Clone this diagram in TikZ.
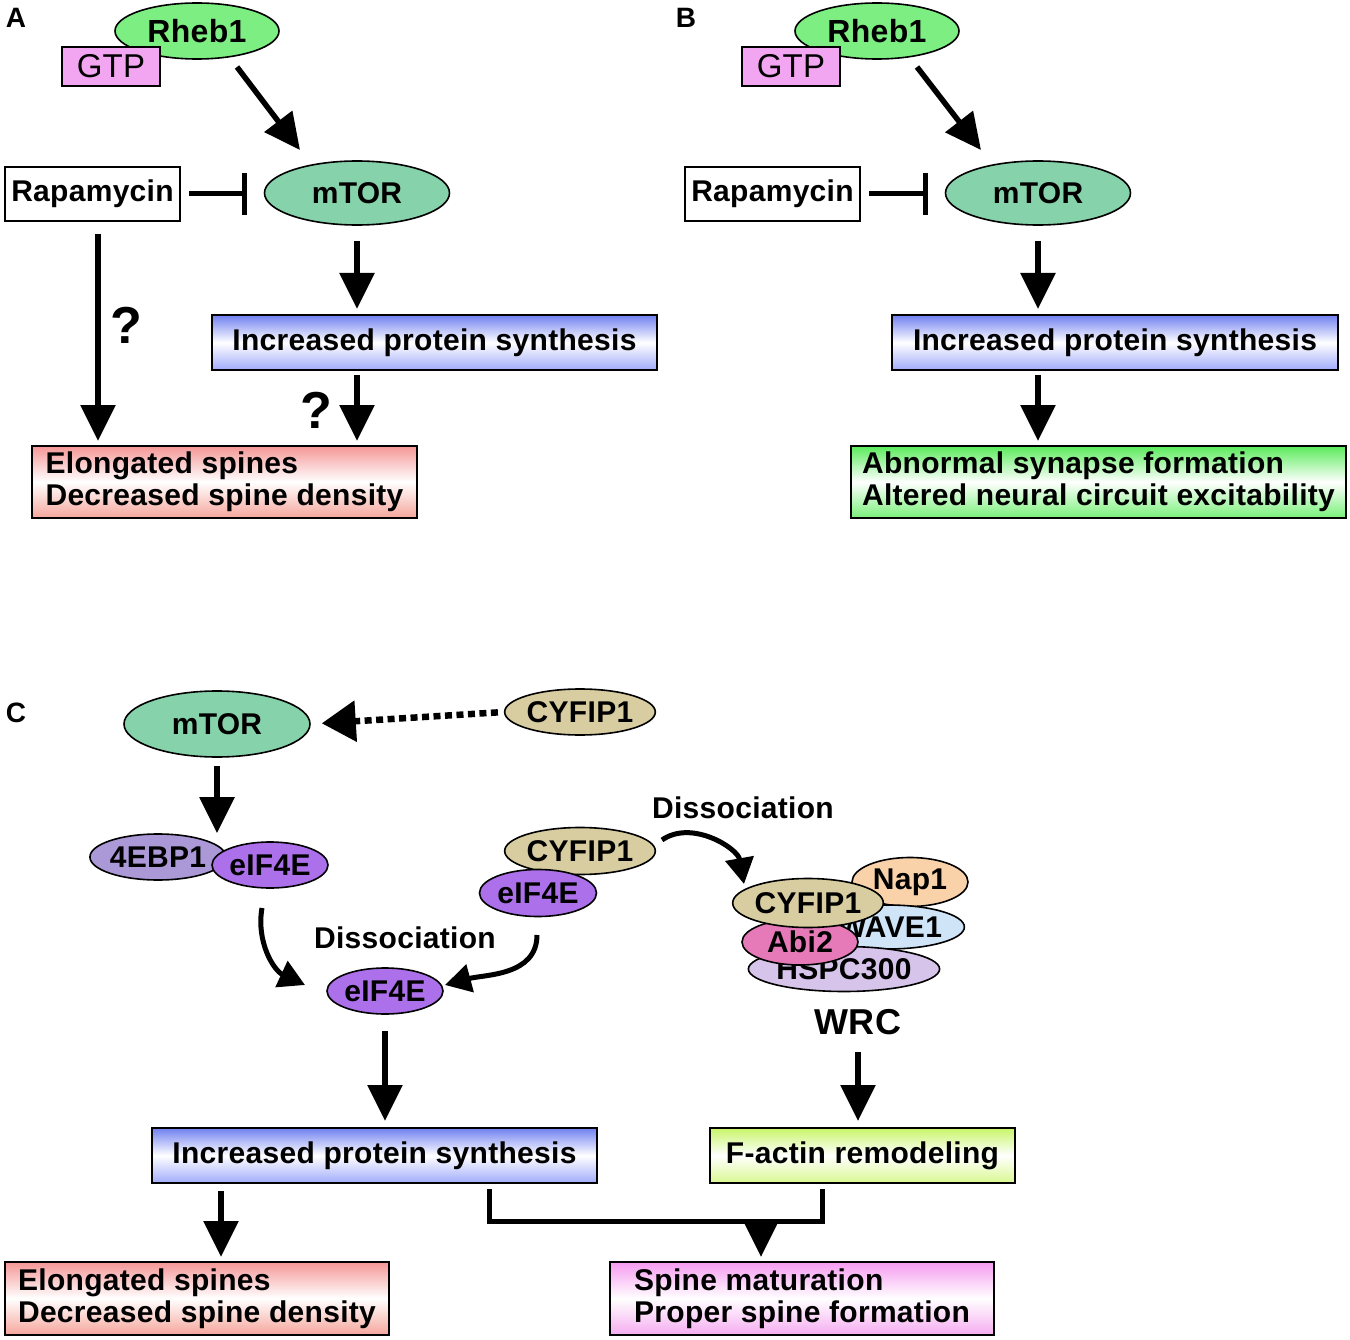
\documentclass[tikz,border=0pt]{standalone}
\usepackage{fontspec}
\setmainfont{Liberation Sans}[LetterSpace=1]
\usetikzlibrary{shapes.geometric,arrows.meta,calc}
\definecolor{rhebgreen}{RGB}{125,238,130}
\definecolor{gtppink}{RGB}{242,165,240}
\definecolor{mtorgreen}{RGB}{134,210,170}
\definecolor{protblue}{RGB}{112,128,240}
\definecolor{protbluelow}{RGB}{160,172,250}
\definecolor{redbox}{RGB}{245,150,150}
\definecolor{redboxlow}{RGB}{245,165,155}
\definecolor{greenbox}{RGB}{90,235,90}
\definecolor{greenboxlow}{RGB}{120,240,120}
\definecolor{cyftan}{RGB}{216,205,160}
\definecolor{ebplav}{RGB}{170,152,215}
\definecolor{eifpurple}{RGB}{172,112,235}
\definecolor{nappeach}{RGB}{250,210,170}
\definecolor{waveblue}{RGB}{208,228,248}
\definecolor{hspclav}{RGB}{215,196,235}
\definecolor{abipink}{RGB}{230,122,185}
\definecolor{actingreen}{RGB}{200,245,105}
\definecolor{actingreenlow}{RGB}{218,248,145}
\definecolor{spinepink}{RGB}{245,155,240}
\definecolor{spinepinklow}{RGB}{245,172,240}
\tikzset{
  every node/.style={font=\fontsize{30}{32}\selectfont\bfseries},
  prot/.style={ellipse,draw,line width=1.6pt,inner sep=0pt},
  box/.style={rectangle,draw,line width=2pt,inner sep=0pt},
  arr/.style={line width=5.5pt,-{Triangle[length=36pt,width=34pt]}},
  carr/.style={line width=5pt,-{Triangle[length=26pt,width=28pt]}},
  inh/.style={line width=5pt,-{Bar[width=42pt]}},
  dotarr/.style={line width=6.5pt,dash pattern=on 7pt off 4.5pt,-{Triangle[length=34pt,width=40pt]}},
  quest/.style={font=\fontsize{52}{54}\selectfont\bfseries},
  panel/.style={font=\fontsize{28}{30}\selectfont\bfseries}
}
\begin{document}
\begin{tikzpicture}[x=1pt,y=1pt]
\useasboundingbox (0,0) rectangle (1350,-1340);

\node[panel] (labA) at (16,-18) {A};
\node[prot,fill=rhebgreen,minimum width=164pt,minimum height=56pt,font=\fontsize{32}{34}\selectfont\bfseries] (rhebA) at (197,-31) {Rheb1};
\node[box,line width=1.6pt,fill=gtppink,minimum width=98pt,minimum height=39pt,font=\fontsize{33}{34}\selectfont] (gtpA) at (111,-66.5) {GTP};
\node[box,fill=white,minimum width=175pt,minimum height=54pt] (rapaA) at (92.5,-194) {Rapamycin};
\node[prot,fill=mtorgreen,minimum width=185pt,minimum height=64pt] (mtorA) at (357,-193) {mTOR};
\node[box,top color=protblue,bottom color=protbluelow,middle color=white,minimum width=445pt,minimum height=55pt] (protA) at (434.5,-342.5) {Increased protein synthesis};
\node[box,top color=redbox,bottom color=redboxlow,middle color=white,minimum width=385pt,minimum height=72pt,align=left] (elongA) at (224.5,-482) {Elongated spines\\Decreased spine density};
\node[quest] (qA1) at (126,-325) {?};
\node[quest] (qA2) at (316,-410) {?};
\draw[arr] ($(rhebA)+(40,-36)$) -- ($(mtorA)+(-57,43)$);
\draw[inh,shorten <=8pt,shorten >=17pt] (rapaA.east) -- (rapaA.east -| mtorA.west);
\draw[arr,shorten <=15pt,shorten >=5pt] (mtorA.south) -- (mtorA.south |- protA.north);
\coordinate (rapdown) at ($(rapaA.south)+(5.5,0)$);
\draw[arr,shorten <=12pt,shorten >=4pt] (rapdown) -- (rapdown |- elongA.north);
\draw[arr,shorten <=4pt,shorten >=4pt] (mtorA.south |- protA.south) -- (mtorA.south |- elongA.north);

\node[panel] (labB) at (686,-18) {B};
\node[prot,fill=rhebgreen,minimum width=164pt,minimum height=56pt,font=\fontsize{32}{34}\selectfont\bfseries] (rhebB) at (877,-31) {Rheb1};
\node[box,line width=1.6pt,fill=gtppink,minimum width=98pt,minimum height=39pt,font=\fontsize{33}{34}\selectfont] (gtpB) at (791,-66.5) {GTP};
\node[box,fill=white,minimum width=175pt,minimum height=54pt] (rapaB) at (772.5,-194) {Rapamycin};
\node[prot,fill=mtorgreen,minimum width=185pt,minimum height=64pt] (mtorB) at (1038,-193) {mTOR};
\node[box,top color=protblue,bottom color=protbluelow,middle color=white,minimum width=446pt,minimum height=55pt] (protB) at (1115,-342.5) {Increased protein synthesis};
\node[box,top color=greenbox,bottom color=greenboxlow,middle color=white,minimum width=495pt,minimum height=72pt,align=left] (synB) at (1098.5,-482) {Abnormal synapse formation\\Altered neural circuit excitability};
\draw[arr] ($(rhebB)+(40,-36)$) -- ($(mtorB)+(-57,43)$);
\draw[inh,shorten <=8pt,shorten >=17pt] (rapaB.east) -- (rapaB.east -| mtorB.west);
\draw[arr,shorten <=15pt,shorten >=5pt] (mtorB.south) -- (mtorB.south |- protB.north);
\draw[arr,shorten <=4pt,shorten >=4pt] (mtorB.south |- protB.south) -- (mtorB.south |- synB.north);

\node[panel] (labC) at (16,-713) {C};
\node[prot,fill=mtorgreen,minimum width=186pt,minimum height=66pt] (mtorC) at (217,-724) {mTOR};
\node[prot,fill=cyftan,minimum width=130pt,minimum height=46pt] (cyfA) at (580,-712) {CYFIP1};
\node[prot,fill=ebplav,minimum width=116pt,minimum height=46pt] (ebpC) at (158,-857) {4EBP1};
\node[prot,fill=eifpurple,minimum width=116pt,minimum height=46pt] (eifA) at (270,-865) {eIF4E};
\node[prot,fill=cyftan,minimum width=130pt,minimum height=47pt] (cyfB) at (580,-851) {CYFIP1};
\node[prot,fill=eifpurple,minimum width=117pt,minimum height=47pt] (eifB) at (538,-893) {eIF4E};
\node[prot,fill=eifpurple,minimum width=116pt,minimum height=46pt] (eifC) at (385,-991) {eIF4E};
\node (dissA) at (405,-938) {Dissociation};
\node (dissB) at (743,-808) {Dissociation};
\node[prot,fill=nappeach,minimum width=116pt,minimum height=49pt] (napW) at (910,-882) {Nap1};
\node[prot,fill=waveblue,minimum width=118pt,minimum height=44pt] (waveW) at (888,-927) {\hspace*{4pt}WAVE1};
\node[prot,fill=hspclav,minimum width=148pt,minimum height=45pt] (hspcW) at (844,-969) {HSPC300};
\node[prot,fill=abipink,minimum width=116pt,minimum height=46pt] (abiW) at (800,-942) {Abi2};
\node[prot,fill=cyftan,minimum width=130pt,minimum height=49pt] (cyfW) at (808,-903) {CYFIP1};
\node[font=\fontsize{36}{38}\selectfont\bfseries] (wrc) at (858,-1022) {WRC};
\node[box,top color=protblue,bottom color=protbluelow,middle color=white,minimum width=445pt,minimum height=55pt] (protC) at (374.5,-1155.5) {Increased protein synthesis};
\node[box,top color=actingreen,bottom color=actingreenlow,middle color=white,minimum width=305pt,minimum height=55pt] (actin) at (862.5,-1155.5) {F-actin remodeling};
\node[box,top color=redbox,bottom color=redboxlow,middle color=white,minimum width=384pt,minimum height=73pt,align=left] (elongC) at (197,-1298.5) {Elongated spines\\Decreased spine density};
\node[box,top color=spinepink,bottom color=spinepinklow,middle color=white,minimum width=384pt,minimum height=73pt,align=left] (spineC) at (802,-1298.5) {Spine maturation\\Proper spine formation};
\draw[dotarr,shorten <=6pt,shorten >=11pt] (cyfA.west) -- (mtorC.east);
\draw[arr,shorten <=8pt] (mtorC.south) -- (mtorC.south |- ebpC.north);
\draw[carr] ($(eifA)+(-8,-43)$) to[out=-100,in=155] ($(eifC)+(-80,6)$);
\draw[carr] ($(eifB)+(-1,-42)$) to[out=-90,in=15] ($(eifC)+(60,6)$);
\draw[carr] ($(cyfB)+(82,11)$) to[out=35,in=100] ($(cyfW)+(-64,19)$);
\draw[arr,shorten <=16pt,shorten >=6pt] (eifC.south) -- (eifC.south |- protC.north);
\draw[arr,shorten <=14pt,shorten >=6pt] (wrc.south) -- (wrc.south |- actin.north);
\coordinate (protfoot) at ($(protC.south west)+(70,0)$);
\draw[arr,shorten <=7pt,shorten >=4pt] (protfoot) -- (protfoot |- elongC.north);
\coordinate (brleft) at ($(protC.south west)+(338,-5)$);
\coordinate (brright) at ($(actin.south west)+(113,-5)$);
\coordinate (brmid) at ($(brleft)+(272,-32)$);
\draw[line width=5pt] (brleft) -- ++(0,-32) -| (brright);
\draw[arr,shorten >=4pt] (brmid) -- (brmid |- spineC.north);
\end{tikzpicture}
\end{document}
